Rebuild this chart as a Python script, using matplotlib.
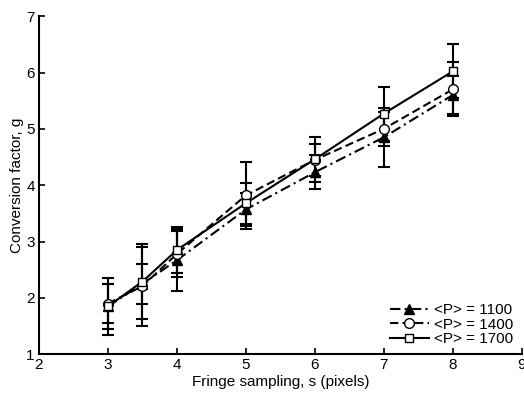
import matplotlib
matplotlib.use("Agg")
import matplotlib.pyplot as plt

plt.rcParams["font.family"] = ["Liberation Sans", "DejaVu Sans"]

# Fringe sampling (pixels)
s = [3, 3.5, 4, 5, 6, 7, 8]

# <P> = 1100
g_1100 = [1.85, 2.25, 2.67, 3.57, 4.23, 4.85, 5.60]
e_1100 = [0.40, 0.35, 0.55, 0.30, 0.30, 0.52, 0.34]

# <P> = 1400
g_1400 = [1.90, 2.21, 2.78, 3.82, 4.45, 5.00, 5.70]
e_1400 = [0.35, 0.70, 0.40, 0.60, 0.28, 0.30, 0.48]

# <P> = 1700
g_1700 = [1.85, 2.29, 2.85, 3.68, 4.46, 5.27, 6.02]
e_1700 = [0.50, 0.67, 0.40, 0.36, 0.40, 0.48, 0.48]

series = [
    (g_1100, e_1100, "<P> = 1100", (0, (5, 2, 1, 2)), "^", "black", 6.5),
    (g_1400, e_1400, "<P> = 1400", (0, (4, 2)), "o", "white", 7),
    (g_1700, e_1700, "<P> = 1700", "-", "s", "white", 6),
]

fig = plt.figure(figsize=(5.24, 3.94), dpi=100)
ax = fig.add_axes([0.0744, 0.1008, 0.9212, 0.8582])

for g, e, lab, ls, mk, fc, ms in series:
    ax.errorbar(s, g, yerr=e, fmt="none", ecolor="black", elinewidth=1.5,
                capsize=4, capthick=1.5, zorder=2)
    ax.plot(s, g, linestyle=ls, color="black", linewidth=1.5, marker=mk,
            markersize=ms, markerfacecolor=fc,
            markeredgecolor="black", markeredgewidth=1.0, label=lab, zorder=3)

ax.set_xlim(2, 9)
ax.set_ylim(1, 7)
ax.set_xticks(range(2, 10))
ax.set_yticks(range(1, 8))
ax.spines["top"].set_visible(False)
ax.spines["right"].set_visible(False)
ax.spines["left"].set_linewidth(1.5)
ax.spines["bottom"].set_linewidth(1.5)
ax.tick_params(direction="in", length=4, width=1.2, labelsize=11, pad=3)
ax.set_xlabel("Fringe sampling, s (pixels)", fontsize=11, labelpad=2)
ax.set_ylabel("Conversion factor, g", fontsize=11, labelpad=2)

ax.legend(loc="lower right", frameon=False, fontsize=11, handlelength=2.6,
          handletextpad=0.3, labelspacing=0.05, borderaxespad=0.0,
          bbox_to_anchor=(0.995, 0.005))

fig.savefig("out.png", dpi=100)
